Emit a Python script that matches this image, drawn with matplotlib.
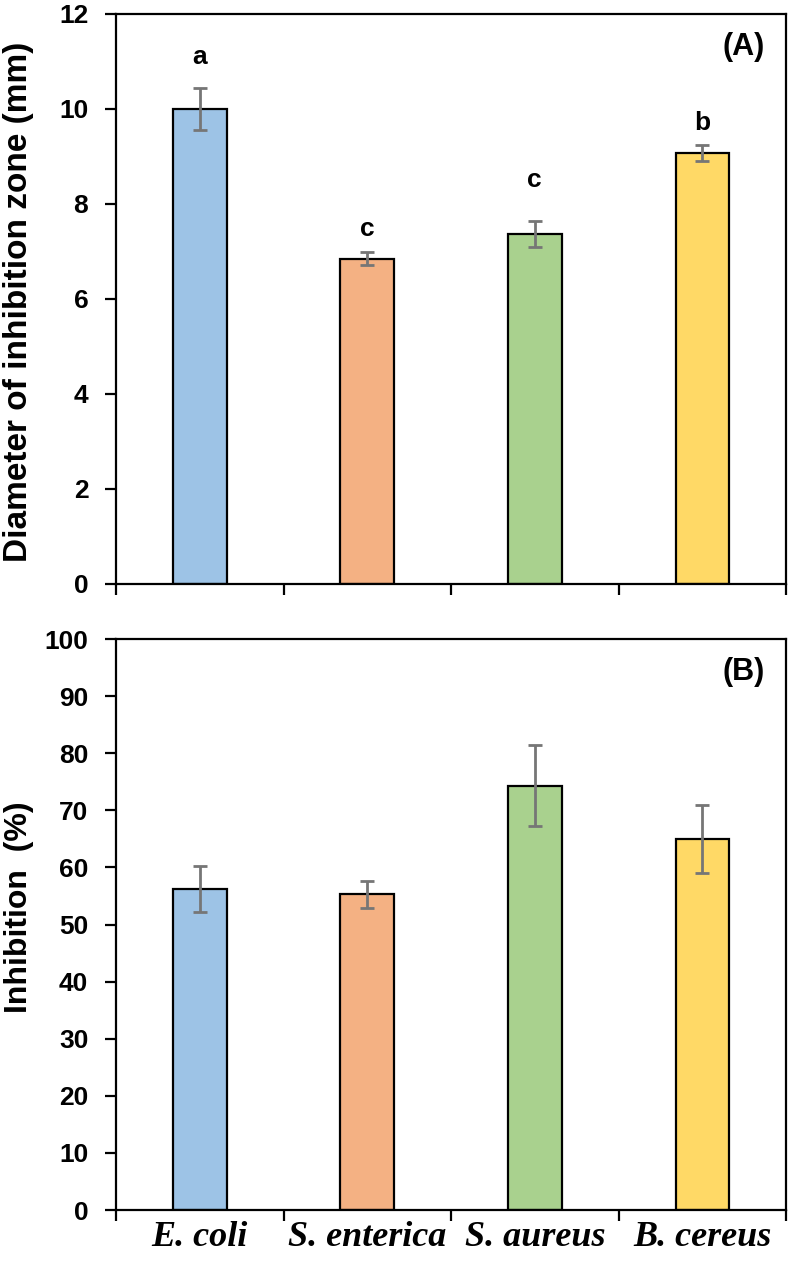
import numpy as np
import matplotlib
matplotlib.use("Agg")
import matplotlib.pyplot as plt

# ============ Data ============
species = ["E. coli", "S. enterica", "S. aureus", "B. cereus"]
colors = ["#9DC3E6", "#F4B183", "#A9D18E", "#FFD966"]

zone_mean = [10.0, 6.85, 7.37, 9.07]
zone_err = [0.44, 0.13, 0.28, 0.17]
zone_letters = ["a", "c", "c", "b"]
zone_letter_y = [11.1, 7.48, 8.5, 9.7]

inhib_mean = [56.2, 55.3, 74.3, 65.0]
inhib_err = [4.0, 2.4, 7.1, 6.0]

plt.rcParams['font.family'] = ['Liberation Sans', 'DejaVu Sans']
plt.rcParams['font.weight'] = 'bold'

fig = plt.figure(figsize=(7.92, 12.7), dpi=100)
axA = fig.add_axes([0.1465, 0.5402, 0.846, 0.4488])
axB = fig.add_axes([0.1465, 0.0472, 0.846, 0.4496])

x = np.arange(len(species))
bounds = np.arange(-0.5, len(species), 1.0)


def style(ax, ylim, yticks):
    ax.set_xlim(-0.5, len(species) - 0.5)
    ax.set_ylim(*ylim)
    ax.set_yticks(yticks)
    for s in ax.spines.values():
        s.set_linewidth(1.6)
    ax.tick_params(axis='y', direction='out', length=8, width=1.6,
                   labelsize=19, pad=12)
    ax.set_xticks(bounds, minor=True)
    ax.tick_params(axis='x', which='minor', direction='out', length=8, width=1.6)
    ax.tick_params(axis='x', which='major', length=0)
    for lab in ax.get_yticklabels():
        lab.set_fontweight('bold')


# ---- panel A ----
axA.bar(x, zone_mean, width=0.32, color=colors, edgecolor='black', linewidth=1.6, zorder=2)
axA.errorbar(x, zone_mean, yerr=zone_err, fmt='none', ecolor='#767676',
             elinewidth=2, capsize=5, capthick=2, zorder=3)
for xi, t, ty in zip(x, zone_letters, zone_letter_y):
    axA.text(xi, ty, t, ha='center', va='center', fontsize=19, fontweight='bold')
style(axA, (0, 12), np.arange(0, 13, 2))
axA.set_xticks(x)
axA.set_xticklabels([])
axA.set_ylabel("Diameter of inhibition zone (mm)", fontsize=24, fontweight='bold', va='center')
axA.yaxis.set_label_coords(-0.145, 0.495)
axA.text(0.936, 0.942, "(A)", transform=axA.transAxes, ha='center', va='center',
         fontsize=22, fontweight='bold')

# ---- panel B ----
axB.bar(x, inhib_mean, width=0.32, color=colors, edgecolor='black', linewidth=1.6, zorder=2)
axB.errorbar(x, inhib_mean, yerr=inhib_err, fmt='none', ecolor='#767676',
             elinewidth=2, capsize=5, capthick=2, zorder=3)
style(axB, (0, 100), np.arange(0, 101, 10))
axB.set_xticks(x)
axB.set_xticklabels(species, family=['Liberation Serif', 'DejaVu Serif'],
                    style='italic', fontweight='bold', fontsize=26)
axB.tick_params(axis='x', which='major', pad=8)
axB.set_ylabel("Inhibition  (%)", fontsize=23, fontweight='bold', va='center')
axB.yaxis.set_label_coords(-0.145, 0.53)
axB.text(0.936, 0.942, "(B)", transform=axB.transAxes, ha='center', va='center',
         fontsize=22, fontweight='bold')

fig.savefig("out.png", dpi=100)
